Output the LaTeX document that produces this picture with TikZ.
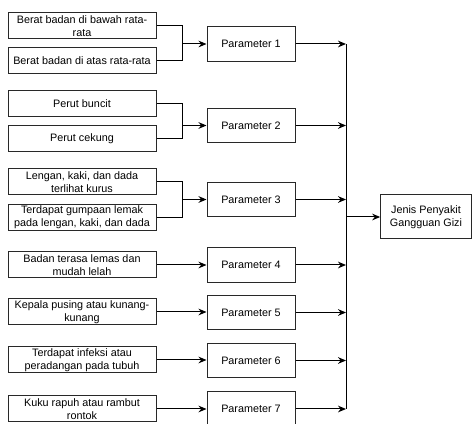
\documentclass[tikz,border=0pt]{standalone}
\usepackage{fontspec}
\setmainfont{Liberation Sans}
\usepackage{xcolor}
\usetikzlibrary{arrows.meta,positioning,calc}
\definecolor{boxline}{RGB}{40,40,40}

\begin{document}
\begin{tikzpicture}[
      x=0.75pt, y=-0.75pt,
      gejala/.style={draw=boxline, line width=0.75pt, fill=white, align=center,
                     minimum width=111pt, minimum height=19.5pt, inner sep=1pt,
                     font=\fontsize{8.1pt}{9.7pt}\selectfont},
      parbox/.style={draw=boxline, line width=0.75pt, fill=white, align=center,
                     minimum width=66pt, minimum height=26pt, inner sep=1pt,
                     font=\fontsize{8.1pt}{9.7pt}\selectfont},
      hasilbox/.style={draw=boxline, line width=0.75pt, fill=white, align=center,
                     minimum width=68pt, minimum height=33pt, inner sep=1pt,
                     font=\fontsize{8.1pt}{9.7pt}\selectfont},
      line/.style={line width=0.75pt, draw=black},
      arrow/.style={-{Stealth[length=6pt,width=5pt]}, line width=0.75pt, draw=black}
    ]
      \useasboundingbox (0,0) rectangle (472,424);

      % --- gejala (left column) ---
      \node[gejala] (g1a) at (82,26)    {Berat badan di bawah rata-\\rata};
      \node[gejala] (g1b) at (82,61)    {Berat badan di atas rata-rata};
      \node[gejala] (g2a) at (82,104)   {Perut buncit};
      \node[gejala] (g2b) at (82,139)   {Perut cekung};
      \node[gejala] (g3a) at (82,182)   {Lengan, kaki, dan dada\\terlihat kurus};
      \node[gejala] (g3b) at (82,217.5) {Terdapat gumpaan lemak\\pada lengan, kaki, dan dada};
      \node[gejala] (g4)  at (82,265)   {Badan terasa lemas dan\\mudah lelah};
      \node[gejala] (g5)  at (82,312)   {Kepala pusing atau kunang-\\kunang};
      \node[gejala] (g6)  at (82,360)   {Terdapat infeksi atau\\peradangan pada tubuh};
      \node[gejala] (g7)  at (82,409)   {Kuku rapuh atau rambut\\rontok};

      % --- parameter (middle column) ---
      \node[parbox] (p1) at (251,44)    {Parameter 1};
      \node[parbox] (p2) at (251,125.5) {Parameter 2};
      \node[parbox] (p3) at (251,199.5) {Parameter 3};
      \node[parbox] (p4) at (251,265)   {Parameter 4};
      \node[parbox] (p5) at (251,312.5) {Parameter 5};
      \node[parbox] (p6) at (251,360.5) {Parameter 6};
      \node[parbox] (p7) at (251,409)   {Parameter 7};

      % --- result ---
      \node[hasilbox] (hasil) at (426,217) {Jenis Penyakit\\Gangguan Gizi};

      % --- merge points of the paired gejala ---
      \coordinate (j1) at (182,44);
      \coordinate (j2) at (182,125.5);
      \coordinate (j3) at (182,199.5);
      \coordinate (bus) at (346,217);

      \draw[line] (g1a.east) -| (j1);
      \draw[line] (g1b.east) -| (j1);
      \draw[arrow] (j1) -- (p1);
      \draw[line] (g2a.east) -| (j2);
      \draw[line] (g2b.east) -| (j2);
      \draw[arrow] (j2) -- (p2);
      \draw[line] (g3a.east) -| (j3);
      \draw[line] (g3b.east) -| (j3);
      \draw[arrow] (j3) -- (p3);

      % --- single gejala ---
      \foreach \i in {4,...,7}
        \draw[arrow] (g\i.east) -- (p\i.west |- g\i.east);

      % --- parameter into the bus, bus into the result ---
      \foreach \i in {1,...,7}
        \draw[arrow] (p\i.east) -- (p\i.east -| bus);
      \draw[line] (p1.east -| bus) -- (p7.east -| bus);
      \draw[arrow] (bus) -- (hasil);
    \end{tikzpicture}
\end{document}
